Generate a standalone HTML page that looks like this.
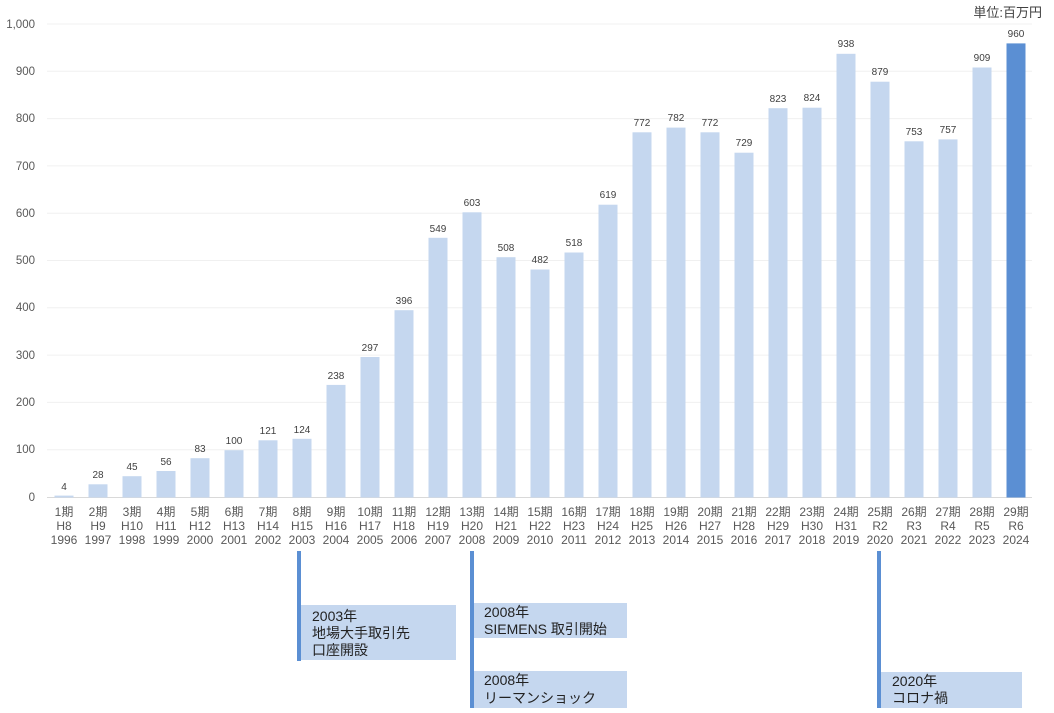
<!DOCTYPE html>
<html><head><meta charset="utf-8"><style>
html,body{margin:0;padding:0;background:#fff;}
svg{display:block;font-family:"Liberation Sans","Noto Sans CJK JP",sans-serif;}
.yt{font-size:11.5px;fill:#595959;text-anchor:end;}
.v{font-size:10px;fill:#404040;text-anchor:middle;}
.xl{font-size:12px;fill:#595959;text-anchor:middle;}
.an{font-size:14px;fill:#222;}
</style></head><body>
<svg width="1054" height="713" viewBox="0 0 1054 713">
<g stroke="#f0f0f0" stroke-width="1">
<line x1="47" x2="1032" y1="24" y2="24"/><line x1="47" x2="1032" y1="71.3" y2="71.3"/><line x1="47" x2="1032" y1="118.6" y2="118.6"/><line x1="47" x2="1032" y1="165.9" y2="165.9"/><line x1="47" x2="1032" y1="213.2" y2="213.2"/><line x1="47" x2="1032" y1="260.5" y2="260.5"/><line x1="47" x2="1032" y1="307.8" y2="307.8"/><line x1="47" x2="1032" y1="355.1" y2="355.1"/><line x1="47" x2="1032" y1="402.4" y2="402.4"/><line x1="47" x2="1032" y1="449.7" y2="449.7"/>
</g>
<line x1="47" x2="1032" y1="497.5" y2="497.5" stroke="#d9d9d9"/>
<g class="yt">
<text x="35" y="28">1,000</text><text x="35" y="75">900</text><text x="35" y="122">800</text><text x="35" y="170">700</text><text x="35" y="217">600</text><text x="35" y="264">500</text><text x="35" y="311">400</text><text x="35" y="359">300</text><text x="35" y="406">200</text><text x="35" y="453">100</text><text x="35" y="501">0</text>
</g>
<text x="1042" y="17" style="font-size:13px;fill:#404040;text-anchor:end">単位:百万円</text>
<g fill="#c5d7ef">
<rect x="54.5" y="495.6" width="19" height="1.9"/>
<rect x="88.5" y="484.3" width="19" height="13.2"/>
<rect x="122.5" y="476.2" width="19" height="21.3"/>
<rect x="156.5" y="471" width="19" height="26.5"/>
<rect x="190.5" y="458.2" width="19" height="39.3"/>
<rect x="224.5" y="450.2" width="19" height="47.3"/>
<rect x="258.5" y="440.3" width="19" height="57.2"/>
<rect x="292.5" y="438.8" width="19" height="58.7"/>
<rect x="326.5" y="384.9" width="19" height="112.6"/>
<rect x="360.5" y="357" width="19" height="140.5"/>
<rect x="394.5" y="310.2" width="19" height="187.3"/>
<rect x="428.5" y="237.8" width="19" height="259.7"/>
<rect x="462.5" y="212.3" width="19" height="285.2"/>
<rect x="496.5" y="257.2" width="19" height="240.3"/>
<rect x="530.5" y="269.5" width="19" height="228"/>
<rect x="564.5" y="252.5" width="19" height="245"/>
<rect x="598.5" y="204.7" width="19" height="292.8"/>
<rect x="632.5" y="132.3" width="19" height="365.2"/>
<rect x="666.5" y="127.6" width="19" height="369.9"/>
<rect x="700.5" y="132.3" width="19" height="365.2"/>
<rect x="734.5" y="152.7" width="19" height="344.8"/>
<rect x="768.5" y="108.2" width="19" height="389.3"/>
<rect x="802.5" y="107.7" width="19" height="389.8"/>
<rect x="836.5" y="53.8" width="19" height="443.7"/>
<rect x="870.5" y="81.7" width="19" height="415.8"/>
<rect x="904.5" y="141.3" width="19" height="356.2"/>
<rect x="938.5" y="139.4" width="19" height="358.1"/>
<rect x="972.5" y="67.5" width="19" height="430"/>
</g>
<rect x="1006.5" y="43.4" width="19" height="454.1" fill="#5b8fd3"/>
<g class="v">
<text x="64" y="490">4</text><text x="98" y="478">28</text><text x="132" y="470">45</text><text x="166" y="465">56</text><text x="200" y="452">83</text><text x="234" y="444">100</text><text x="268" y="434">121</text><text x="302" y="433">124</text><text x="336" y="379">238</text><text x="370" y="351">297</text><text x="404" y="304">396</text><text x="438" y="232">549</text><text x="472" y="206">603</text><text x="506" y="251">508</text><text x="540" y="263">482</text><text x="574" y="246">518</text><text x="608" y="198">619</text><text x="642" y="126">772</text><text x="676" y="121">782</text><text x="710" y="126">772</text><text x="744" y="146">729</text><text x="778" y="102">823</text><text x="812" y="101">824</text><text x="846" y="47">938</text><text x="880" y="75">879</text><text x="914" y="135">753</text><text x="948" y="133">757</text><text x="982" y="61">909</text><text x="1016" y="37">960</text>
</g>
<g class="xl">
<text x="64" y="516">1期</text><text x="64" y="530">H8</text><text x="64" y="544">1996</text>
<text x="98" y="516">2期</text><text x="98" y="530">H9</text><text x="98" y="544">1997</text>
<text x="132" y="516">3期</text><text x="132" y="530">H10</text><text x="132" y="544">1998</text>
<text x="166" y="516">4期</text><text x="166" y="530">H11</text><text x="166" y="544">1999</text>
<text x="200" y="516">5期</text><text x="200" y="530">H12</text><text x="200" y="544">2000</text>
<text x="234" y="516">6期</text><text x="234" y="530">H13</text><text x="234" y="544">2001</text>
<text x="268" y="516">7期</text><text x="268" y="530">H14</text><text x="268" y="544">2002</text>
<text x="302" y="516">8期</text><text x="302" y="530">H15</text><text x="302" y="544">2003</text>
<text x="336" y="516">9期</text><text x="336" y="530">H16</text><text x="336" y="544">2004</text>
<text x="370" y="516">10期</text><text x="370" y="530">H17</text><text x="370" y="544">2005</text>
<text x="404" y="516">11期</text><text x="404" y="530">H18</text><text x="404" y="544">2006</text>
<text x="438" y="516">12期</text><text x="438" y="530">H19</text><text x="438" y="544">2007</text>
<text x="472" y="516">13期</text><text x="472" y="530">H20</text><text x="472" y="544">2008</text>
<text x="506" y="516">14期</text><text x="506" y="530">H21</text><text x="506" y="544">2009</text>
<text x="540" y="516">15期</text><text x="540" y="530">H22</text><text x="540" y="544">2010</text>
<text x="574" y="516">16期</text><text x="574" y="530">H23</text><text x="574" y="544">2011</text>
<text x="608" y="516">17期</text><text x="608" y="530">H24</text><text x="608" y="544">2012</text>
<text x="642" y="516">18期</text><text x="642" y="530">H25</text><text x="642" y="544">2013</text>
<text x="676" y="516">19期</text><text x="676" y="530">H26</text><text x="676" y="544">2014</text>
<text x="710" y="516">20期</text><text x="710" y="530">H27</text><text x="710" y="544">2015</text>
<text x="744" y="516">21期</text><text x="744" y="530">H28</text><text x="744" y="544">2016</text>
<text x="778" y="516">22期</text><text x="778" y="530">H29</text><text x="778" y="544">2017</text>
<text x="812" y="516">23期</text><text x="812" y="530">H30</text><text x="812" y="544">2018</text>
<text x="846" y="516">24期</text><text x="846" y="530">H31</text><text x="846" y="544">2019</text>
<text x="880" y="516">25期</text><text x="880" y="530">R2</text><text x="880" y="544">2020</text>
<text x="914" y="516">26期</text><text x="914" y="530">R3</text><text x="914" y="544">2021</text>
<text x="948" y="516">27期</text><text x="948" y="530">R4</text><text x="948" y="544">2022</text>
<text x="982" y="516">28期</text><text x="982" y="530">R5</text><text x="982" y="544">2023</text>
<text x="1016" y="516">29期</text><text x="1016" y="530">R6</text><text x="1016" y="544">2024</text>
</g>
<g fill="#c5d7ef">
<rect x="300" y="605" width="156" height="55"/>
<rect x="473" y="603" width="154" height="35"/>
<rect x="473" y="671" width="154" height="37"/>
<rect x="881" y="672" width="141" height="36"/>
</g>
<g fill="#5b8fd3">
<rect x="297" y="551" width="4" height="110"/>
<rect x="470" y="551" width="4" height="157"/>
<rect x="877" y="551" width="4" height="157"/>
</g>
<g class="an">
<text x="312" y="621">2003年</text><text x="312" y="638">地場大手取引先</text><text x="312" y="655">口座開設</text>
<text x="484" y="617">2008年</text><text x="484" y="634">SIEMENS 取引開始</text>
<text x="484" y="685">2008年</text><text x="484" y="703">リーマンショック</text>
<text x="892" y="686">2020年</text><text x="892" y="703">コロナ禍</text>
</g>
</svg>
</body></html>
